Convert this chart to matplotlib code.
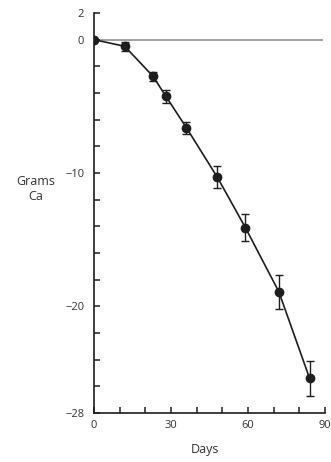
import matplotlib.pyplot as plt

plt.rcParams['font.family'] = 'sans-serif'
plt.rcParams['font.sans-serif'] = ['Open Sans', 'DejaVu Sans']
plt.rcParams['font.size'] = 8

# data
days = [0, 12, 23, 28, 36, 48, 59, 72, 84]
grams = [0, -0.5, -2.75, -4.25, -6.6, -10.3, -14.1, -18.9, -25.4]
err = [0, 0.35, 0.35, 0.5, 0.45, 0.8, 1.0, 1.27, 1.3]

yticks = list(range(2, -29, -2))
ylabels = ['2', '0', '', '', '', '', '\u221210', '', '', '', '', '\u221220', '', '', '', '\u221228']
xticks = list(range(0, 91, 10))
xlabels = ['0', '', '', '30', '', '', '60', '', '', '90']

fig = plt.figure(figsize=(3.31, 4.62), dpi=100)
ax = fig.add_axes([94 / 331, 1 - 413 / 462, 231 / 331, 400 / 462])

txt = '#333333'
ink = '#1e1e1e'

# zero reference line
ax.plot([0, 89], [0, 0], color='#9a9a9a', lw=1.3, zorder=1)

ax.errorbar(days, grams, yerr=err, fmt='-o', color=ink, lw=1.2,
            ms=6, elinewidth=1.0, capsize=3, capthick=1.0, zorder=3)

ax.set_xlim(0, 90)
ax.set_ylim(-28, 2)
ax.set_xticks(xticks)
ax.set_xticklabels(xlabels)
ax.set_yticks(yticks)
ax.set_yticklabels(ylabels)

for s in ['top', 'right']:
    ax.spines[s].set_visible(False)
for s in ['left', 'bottom']:
    ax.spines[s].set_color(ink)
    ax.spines[s].set_linewidth(1.2)

ax.tick_params(direction='in', length=4, width=1.1, color=ink,
               labelcolor=txt, labelsize=8)
ax.tick_params(axis='y', pad=7)
ax.tick_params(axis='x', pad=5)

for lab in ax.get_xticklabels() + ax.get_yticklabels():
    lab.set_clip_on(False)
ax.spines['left'].set_clip_on(False)

fig.text(205 / 331, 1 - 450 / 462, 'Days', ha='center', va='center',
         fontsize=9, color=txt)
fig.text(36 / 331, 1 - 189 / 462, 'Grams\nCa', ha='center', va='center',
         fontsize=9, color=txt, linespacing=1.2)

fig.savefig('out.png', dpi=100)
